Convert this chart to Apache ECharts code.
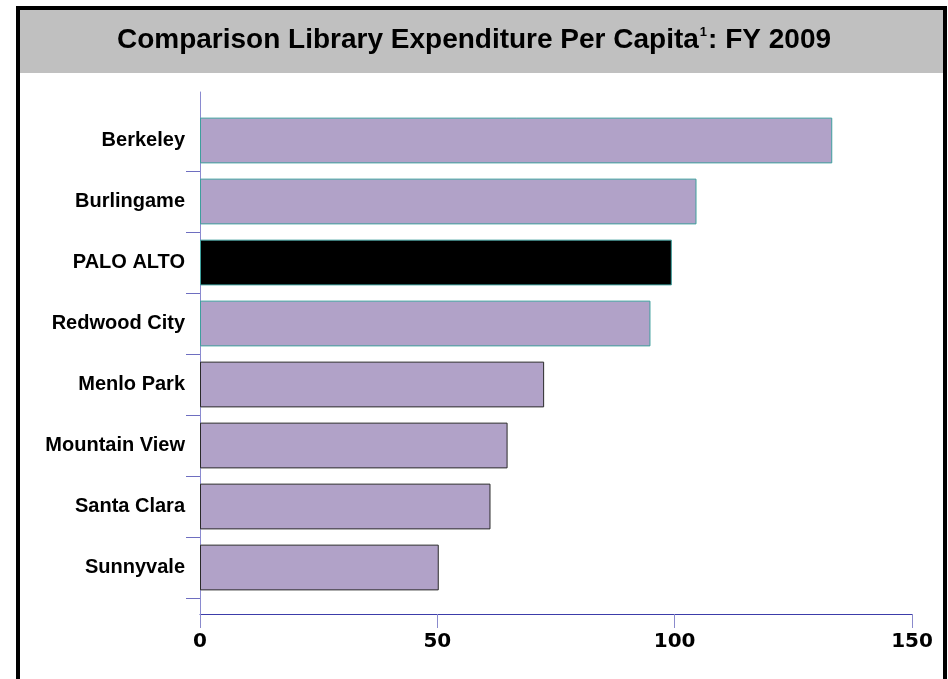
<!DOCTYPE html>
<html>
<head>
<meta charset="utf-8">
<script src="https://cdn.jsdelivr.net/npm/echarts@6/dist/echarts.min.js"></script>
<style>
html,body{margin:0;padding:0;background:#fff;}
#chart{width:948px;height:679px;}
</style>
</head>
<body>
<div id="chart"></div>
<script>
const categories = ['Berkeley','Burlingame','PALO ALTO','Redwood City','Menlo Park','Mountain View','Santa Clara','Sunnyvale'];
const values = [133.2, 104.6, 99.4, 94.9, 72.5, 64.8, 61.2, 50.3];
const xTicks = [0, 50, 100, 150];
const highlight = 'PALO ALTO';

const chart = echarts.init(document.getElementById('chart'));
const barData = values.map((v, i) => ({
  value: v,
  itemStyle: {
    color: categories[i] === highlight ? '#000000' : '#b1a2c8',
    borderColor: i < 4 ? '#3e9f9c' : '#2a2a2a',
    borderWidth: 1
  }
}));

const option = {
  backgroundColor: '#ffffff',
  animation: false,
  graphic: [
    { type: 'rect', z: 0, shape: { x: 20, y: 10, width: 923, height: 63 }, style: { fill: '#c0c0c0' } },
    { type: 'rect', z: 1, shape: { x: 18, y: 8, width: 927, height: 720 }, style: { fill: 'none', stroke: '#000', lineWidth: 4 } }
  ],
  title: {
    text: '{a|Comparison Library Expenditure Per Capita}{s|1}{a|: FY 2009}',
    left: 'center',
    top: 21,
    textStyle: {
      rich: {
        a: { fontFamily: 'Liberation Sans, Arial, sans-serif', fontWeight: 'bold', fontSize: 28, color: '#000' },
        s: { fontFamily: 'Liberation Sans, Arial, sans-serif', fontSize: 13, color: '#000', verticalAlign: 'top', padding: [0, 1, 12, 1] }
      }
    }
  },
  grid: [
    { left: 200, right: 36, top: 110, bottom: 81 },
    { left: 200, right: 36, top: 92, bottom: 65 }
  ],
  xAxis: [
    { gridIndex: 0, type: 'value', min: xTicks[0], max: xTicks[xTicks.length - 1], show: false },
    {
      gridIndex: 1, type: 'value', min: xTicks[0], max: xTicks[xTicks.length - 1], interval: xTicks[1] - xTicks[0],
      axisLine: { show: true, onZero: false, lineStyle: { color: '#3c3caa', width: 1 } },
      axisTick: { show: true, length: 14, lineStyle: { color: '#8a8acc' } },
      splitLine: { show: false },
      axisLabel: { margin: 18, color: '#000', fontFamily: 'DejaVu Sans, Verdana, sans-serif', fontWeight: 'bold', fontSize: 20 }
    }
  ],
  yAxis: [
    {
      gridIndex: 0, type: 'category', data: categories, inverse: true,
      axisLine: { show: false },
      axisTick: { show: true, length: 14, interval: function (i) { return i !== 0; }, lineStyle: { color: '#6e6ec0' } },
      axisLabel: { margin: 15, color: '#000', fontFamily: 'Liberation Sans, Arial, sans-serif', fontWeight: 'bold', fontSize: 20 }
    },
    {
      gridIndex: 1, type: 'value', min: 0, max: 1,
      axisLine: { show: true, onZero: false, lineStyle: { color: '#8a8ad0', width: 1 } },
      axisTick: { show: false }, axisLabel: { show: false }, splitLine: { show: false }
    }
  ],
  series: [{
    type: 'bar',
    xAxisIndex: 0,
    yAxisIndex: 0,
    barCategoryGap: '25%',
    data: barData
  }]
};
chart.setOption(option);
</script>
</body>
</html>
